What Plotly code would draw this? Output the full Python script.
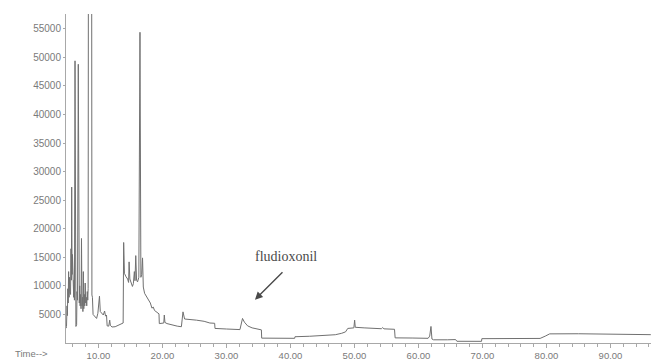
import plotly.graph_objects as go

# Total ion chromatogram: retention time (min) and abundance
time_min = [
    4.95, 5.00, 5.08, 5.14, 5.20, 5.26, 5.33, 5.40, 5.46, 5.52, 5.58, 5.63, 5.70, 5.76,
    5.81, 5.87, 5.93, 5.99, 6.05, 6.12, 6.18, 6.24, 6.33, 6.42, 6.47, 6.58, 6.64, 6.72,
    6.84, 6.92, 7.00, 7.06, 7.13, 7.20, 7.27, 7.34, 7.42, 7.50, 7.56, 7.63, 7.70, 7.78,
    7.85, 7.92, 8.00, 8.08, 8.16, 8.24, 8.32, 8.38, 8.42, 8.93, 8.97, 9.05, 9.15, 9.40,
    9.70, 9.90, 10.05, 10.15, 10.28, 10.45, 10.75, 10.95, 11.10, 11.25, 11.35, 11.60,
    11.75, 11.85, 12.10, 12.60, 13.20, 13.70, 13.85, 13.93, 14.05, 14.30, 14.55, 14.70,
    14.78, 14.90, 15.10, 15.30, 15.45, 15.60, 15.70, 15.82, 15.95, 16.10, 16.30, 16.48,
    16.62, 16.75, 16.88, 17.00, 17.20, 17.45, 17.70, 17.90, 18.10, 18.35, 18.55, 18.75,
    19.00, 19.30, 19.45, 19.50, 20.05, 20.20, 20.28, 20.38, 20.70, 21.40, 22.30, 22.95,
    23.20, 23.45, 24.20, 25.30, 26.50, 27.40, 28.15, 28.20, 30.00, 31.50, 32.10, 32.50,
    32.80, 33.30, 34.00, 35.45, 35.50, 40.65, 40.70, 43.00, 45.00, 47.00, 48.00, 48.60,
    48.95, 49.90, 50.02, 50.12, 51.50, 53.00, 54.20, 54.40, 54.60, 56.25, 56.35, 59.00,
    61.50, 61.75, 61.95, 62.10, 62.35, 64.50, 65.00, 65.80, 66.00, 69.85, 69.90, 75.00,
    79.00, 79.80, 80.50, 85.00, 90.00, 96.30,
]
abundance = [
    2600, 2900, 6500, 4800, 9500, 7000, 12500, 8000, 11500, 9000, 14000, 8500, 16500, 11000,
    27300, 12000, 15500, 9500, 13000, 8000, 11000, 7500, 49400, 7000, 2900, 3200, 9000, 7500,
    48800, 8500, 7000, 10000, 6500, 8500, 6000, 18300, 6500, 8000, 5500, 12500, 6000, 8500,
    6500, 10500, 7000, 8000, 6500, 9000, 7500, 9500, 70000, 70000, 8400, 8000, 5000, 4600,
    4300, 5200, 6500, 8200, 5500, 5200, 4900, 5600, 4700, 4900, 3000, 2950,
    4000, 3100, 2800, 2850, 3100, 3400, 3500, 17600, 12200, 11600, 11200, 10600,
    14200, 11200, 10600, 9900, 10400, 12500, 10900, 15300, 11000, 10700, 11500, 54400,
    11500, 12000, 14900, 9800, 8700, 8200, 7700, 7400, 7000, 6100, 6300, 5700,
    5500, 5200, 5100, 3400, 3400, 3500, 4900, 3600, 3400, 3150, 2950, 2850,
    5450, 4200, 4150, 4000, 3800, 3500, 3450, 2550, 2450, 2380, 2350, 4300,
    3650, 3000, 2650, 2300, 850, 820, 1100, 1180, 1250, 1450, 1700, 1950,
    2550, 2650, 4000, 2750, 2650, 2550, 2500, 2700, 2480, 2400, 900, 870,
    820, 1200, 2900, 700, 560, 560, 620, 600, 300, 290, 760, 770,
    800, 1200, 1600, 1620, 1560, 1460,
]

x_ticks = [10, 20, 30, 40, 50, 60, 70, 80, 90]
x_tick_labels = ["10.00", "20.00", "30.00", "40.00", "50.00", "60.00", "70.00", "80.00", "90.00"]
y_ticks = [5000, 10000, 15000, 20000, 25000, 30000, 35000, 40000, 45000, 50000, 55000]

peak_label = "fludioxonil"
peak_time = 34.45
peak_level = 7570

axis_grey = "#a8a8a8"
text_grey = "#7a7a7a"

fig = go.Figure(
    go.Scatter(
        x=time_min,
        y=abundance,
        mode="lines",
        line=dict(color="#707070", width=1),
        hoverinfo="x+y",
    )
)

fig.update_layout(
    width=651,
    height=361,
    margin=dict(l=66, r=0, t=14, b=18),
    paper_bgcolor="white",
    plot_bgcolor="white",
    showlegend=False,
    font=dict(family="Liberation Sans, Arial, sans-serif", size=10, color=text_grey),
)

fig.update_xaxes(
    range=[4.92, 96.33],
    tickvals=x_ticks,
    ticktext=x_tick_labels,
    ticks="outside",
    ticklen=4,
    tickcolor=axis_grey,
    tickfont=dict(size=9.5, color=text_grey),
    showline=True,
    linecolor=axis_grey,
    linewidth=1,
    showgrid=False,
    zeroline=False,
    minor=dict(dtick=2, ticks="outside", ticklen=3, tickcolor=axis_grey, showgrid=False),
)

fig.update_yaxes(
    range=[0, 57600],
    tickvals=y_ticks,
    tickformat="d",
    ticks="outside",
    ticklen=2,
    tickcolor=axis_grey,
    tickfont=dict(size=10, color=text_grey),
    showline=True,
    linecolor=axis_grey,
    linewidth=1,
    showgrid=False,
    zeroline=False,
)

# x-axis caption at the lower left corner
fig.add_annotation(
    text="Time-->",
    xref="paper", yref="paper",
    x=-0.028, y=-0.032,
    xanchor="right", yanchor="middle",
    showarrow=False,
    font=dict(size=9.5, color=text_grey),
)

# compound label with its pointer arrow
fig.add_annotation(
    text=peak_label,
    x=peak_time, y=peak_level,
    xref="x", yref="y",
    showarrow=False,
    xshift=31, yshift=43,
    font=dict(family="Liberation Serif, Times New Roman, serif", size=14, color="#4a4a4a"),
)
fig.add_annotation(
    x=peak_time, y=peak_level,
    xref="x", yref="y",
    text="",
    showarrow=True,
    arrowhead=2,
    arrowsize=1.1,
    arrowwidth=1.4,
    arrowcolor="#4a4a4a",
    ax=29, ay=-29,
)

fig.write_html("out.html")
